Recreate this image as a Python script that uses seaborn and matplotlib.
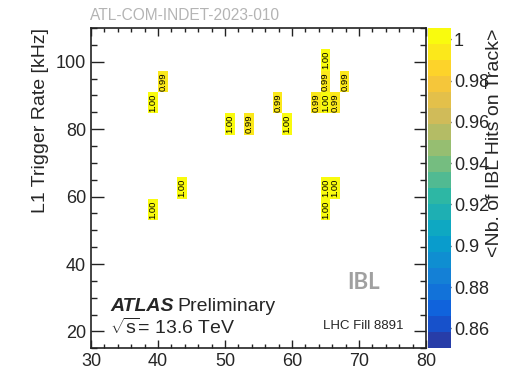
import numpy as np
import pandas as pd
import seaborn as sns
import matplotlib
matplotlib.use("Agg")
import matplotlib.pyplot as plt
from matplotlib.colors import LinearSegmentedColormap, ListedColormap

# Binned <Nb. of IBL hits on track> versus pileup (x) and L1 rate (y)
mu_centers = [39.29, 40.71, 39.29, 43.57, 50.71, 53.57, 57.86, 59.29,
              63.57, 65.00, 65.00, 65.00, 66.43, 67.86, 65.00, 66.43, 65.00]
rate_centers = [87.83, 94.17, 56.17, 62.50, 81.50, 81.50, 87.83, 81.50,
                87.83, 87.83, 94.17, 100.50, 87.83, 94.17, 62.50, 62.50, 56.17]
ibl_hits = [1.00, 0.99, 1.00, 1.00, 1.00, 0.99, 0.99, 1.00,
            0.99, 1.00, 0.99, 1.00, 0.99, 0.99, 1.00, 1.00, 1.00]

cbar_ticks = [0.86, 0.88, 0.90, 0.92, 0.94, 0.96, 0.98, 1.00]
cbar_ticklabels = ["0.86", "0.88", "0.9", "0.92", "0.94", "0.96", "0.98", "1"]

df = pd.DataFrame({"mu": mu_centers, "rate": rate_centers, "hits": ibl_hits})

sns.set_style("ticks")
plt.rcParams["font.family"] = ["Liberation Sans", "DejaVu Sans"]
plt.rcParams["mathtext.fontset"] = "custom"
plt.rcParams["mathtext.rm"] = "Liberation Sans"
plt.rcParams["mathtext.it"] = "Liberation Sans:italic"

# ROOT "kBird" palette, drawn with 20 contour levels
stops = np.linspace(0, 1, 9)
red = [0.2082, 0.0592, 0.0780, 0.0232, 0.1802, 0.5301, 0.8186, 0.9956, 0.9764]
green = [0.1664, 0.3599, 0.5041, 0.6419, 0.7178, 0.7492, 0.7328, 0.7862, 0.9832]
blue = [0.5293, 0.8684, 0.8385, 0.7914, 0.6425, 0.4662, 0.3499, 0.1968, 0.0539]
bird = LinearSegmentedColormap.from_list(
    "bird", list(zip(stops, zip(red, green, blue))), N=256)
levels = 20
cmap = ListedColormap([bird((i + 0.99) / levels) for i in range(levels)])
zmin, zmax = 0.8503, 1.0055

fig = plt.figure(figsize=(5.18, 3.75), dpi=100)
ax = fig.add_axes([0.1757, 0.0712, 0.6467, 0.8541])
cax = fig.add_axes([0.8263, 0.0712, 0.0444, 0.8541])

sns.histplot(data=df, x="mu", y="rate", weights="hits",
             bins=(35, 15), binrange=((30, 80), (15, 110)),
             cmap=cmap, vmin=zmin, vmax=zmax,
             cbar=True, cbar_ax=cax, ax=ax)

for x, y, v in zip(df["mu"], df["rate"], df["hits"]):
    ax.text(x, y, f"{v:.2f}", rotation=90, ha="center", va="center",
            fontsize=6.8, color="black")

ax.set_xlim(30, 80)
ax.set_ylim(15, 110)
ax.set_xlabel("")
ax.set_ylabel("L1 Trigger Rate [kHz]", fontsize=14, loc="top", labelpad=5)
ax.set_xticks(np.arange(30, 81, 10))
ax.set_xticks(np.arange(30, 81, 2), minor=True)
ax.set_yticks(np.arange(20, 101, 20))
ax.set_yticks(np.arange(15, 111, 5), minor=True)
ax.tick_params(which="both", direction="in", top=True, right=True,
               labelsize=13, width=1.0, color="#222222")
ax.tick_params(axis="y", which="major", length=9)
ax.tick_params(axis="y", which="minor", length=4.5)
ax.tick_params(axis="x", which="major", length=6)
ax.tick_params(axis="x", which="minor", length=3)
for s in ax.spines.values():
    s.set_linewidth(1.2)
    s.set_color("#222222")

cbar = ax.collections[0].colorbar
if cbar is not None:
    cbar.outline.set_visible(False)
cax.set_ylim(zmin, zmax)
cax.set_yticks(cbar_ticks)
cax.set_yticklabels(cbar_ticklabels)
cax.yaxis.set_ticks_position("right")
cax.tick_params(axis="y", direction="in", length=9, width=1.0,
                labelsize=13, pad=2, color="#222222")
cax.minorticks_off()
for s in cax.spines.values():
    s.set_visible(False)
cax.set_ylabel("<Nb. of IBL Hits on Track>", fontsize=14,
               loc="top", labelpad=-2)
cax.yaxis.set_label_position("right")

fig.text(0.174, 0.947, "ATL-COM-INDET-2023-010", fontsize=11.2,
         color="#b4b4b4")
ax.text(0.058, 0.115, "ATLAS", transform=ax.transAxes, fontsize=14,
        fontweight="bold", fontstyle="italic")
ax.text(0.257, 0.115, "Preliminary", transform=ax.transAxes, fontsize=14)
ax.text(0.058, 0.045, r"$\sqrt{\mathrm{s}}$= 13.6 TeV", transform=ax.transAxes,
        fontsize=14)
ax.text(0.693, 0.06, "LHC Fill 8891", transform=ax.transAxes, fontsize=9.5)
ax.text(0.765, 0.185, "IBL", transform=ax.transAxes, fontsize=16,
        fontweight="bold", color="#a0a0a0", family=["Lato", "DejaVu Sans"])

fig.savefig("out.png", dpi=100)
